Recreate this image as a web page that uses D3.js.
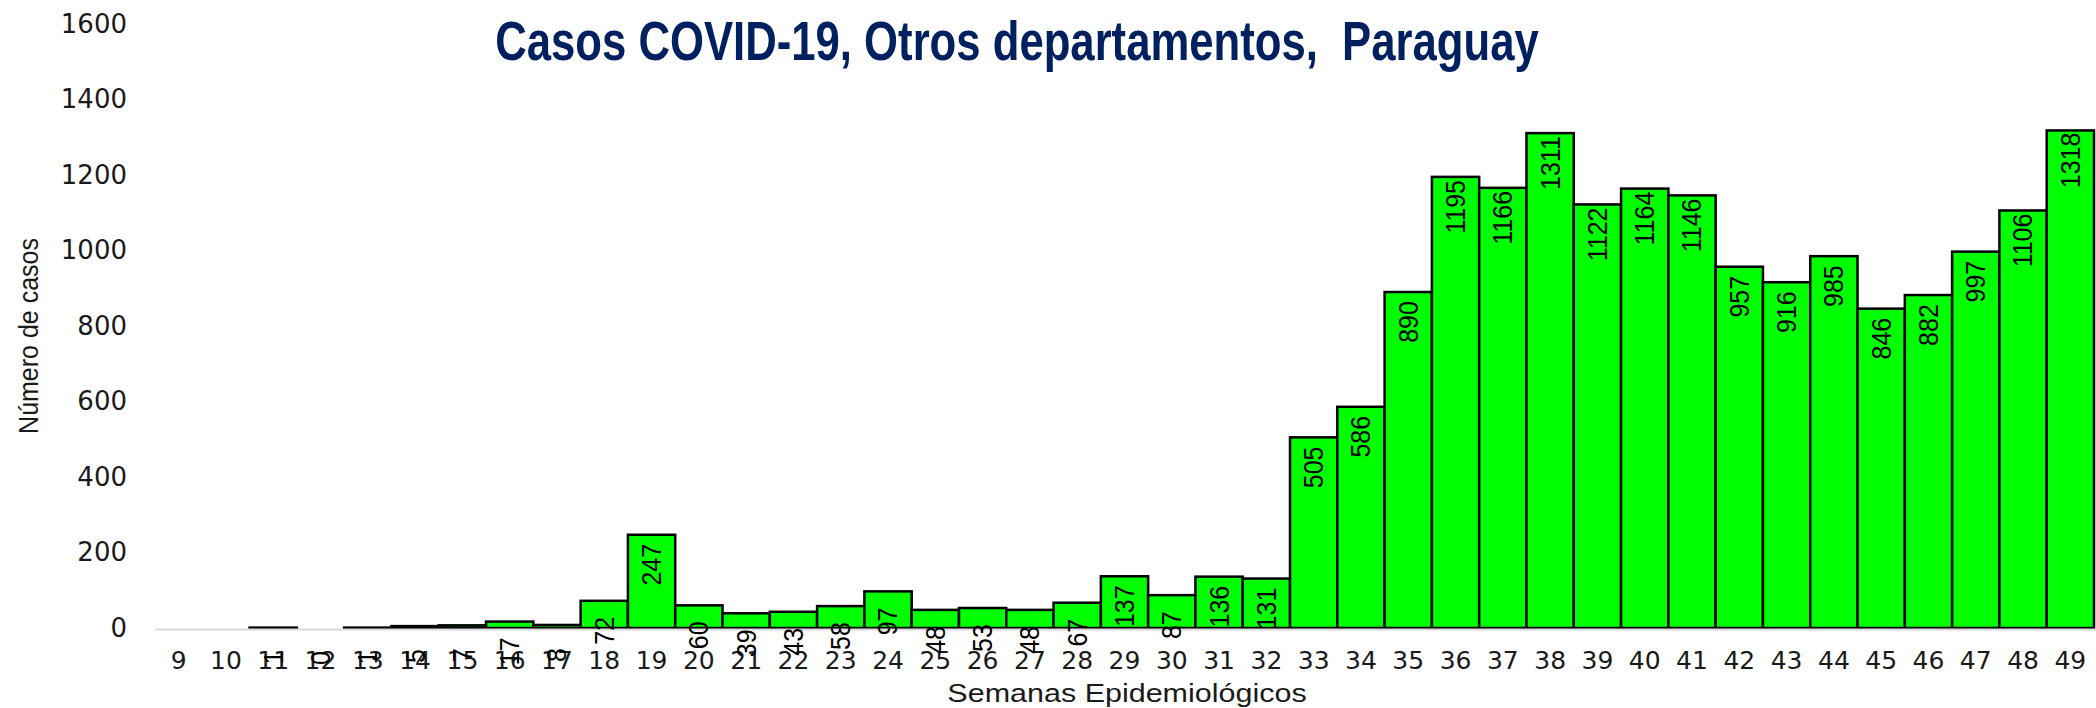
<!DOCTYPE html>
<meta charset="utf-8">
<script src="https://d3js.org/d3.v7.min.js"></script>
<style>
  body { margin: 0; background: #fff; }
</style>
<div id="chart"></div>
<script>

    // data
    var weeks = [9, 10, 11, 12, 13, 14, 15, 16, 17, 18, 19, 20, 21, 22, 23, 24, 25, 26, 27, 28, 29,
        30, 31, 32, 33, 34, 35, 36, 37, 38, 39, 40, 41, 42, 43, 44, 45, 46, 47, 48, 49];
    var cases = [null, null, 1, 0, 1, 5, 7, 17, 8, 72, 247, 60, 39, 43, 58, 97, 48, 53, 48, 67, 137,
        87, 136, 131, 505, 586, 890, 1195, 1166, 1311, 1122, 1164, 1146, 957, 916, 985, 846, 882, 997, 1106, 1318];
    var yTicks = [0, 200, 400, 600, 800, 1000, 1200, 1400, 1600];

    var title = "Casos COVID-19, Otros departamentos,  Paraguay";
    var xTitle = "Semanas Epidemiológicos";
    var yTitle = "Número de casos";

    var width = 2096, height = 708;
    var margin = { top: 24, right: 2, bottom: 80, left: 155 };

    var data = weeks.map(function (w, i) { return { week: w, value: cases[i] }; });

    var svg = d3.select("#chart")
        .append("svg")
        .attr("width", width)
        .attr("height", height);

    var x = d3.scaleBand()
        .domain(weeks)
        .range([margin.left, width - margin.right])
        .padding(0);

    var y = d3.scaleLinear()
        .domain([0, 1600])
        .range([height - margin.bottom, margin.top]);

    // title (condensed bold, squeezed horizontally)
    svg.append("text")
        .attr("transform", "translate(1017,60) scale(0.78,1)")
        .attr("text-anchor", "middle")
        .style("white-space", "pre")
        .style("font-family", "'Liberation Sans', Arial, sans-serif")
        .style("font-weight", "bold")
        .style("font-size", "56px")
        .attr("fill", "#002060")
        .text(title);

    // y axis (labels only)
    var yAxis = svg.append("g")
        .attr("transform", "translate(127,0)")
        .call(d3.axisLeft(y).tickValues(yTicks).tickFormat(d3.format("d")).tickSize(0).tickPadding(0));
    yAxis.select(".domain").remove();
    yAxis.selectAll("text")
        .style("font-family", "'DejaVu Sans', sans-serif")
        .style("font-size", "26px")
        .attr("fill", "#1a1a1a");

    // bars
    var bars = data.filter(function (d) { return d.value !== null; });

    svg.append("g")
        .selectAll("rect")
        .data(bars)
        .join("rect")
        .attr("x", function (d) { return x(d.week); })
        .attr("y", function (d) { return y(d.value); })
        .attr("width", x.bandwidth())
        .attr("height", function (d) { return y(0) - y(d.value); })
        .attr("fill", "#00ff00")
        .attr("stroke", function (d) { return d.value > 0 ? "#000" : "none"; })
        .attr("stroke-width", 2.5);

    // x baseline
    svg.append("line")
        .attr("x1", margin.left)
        .attr("x2", width)
        .attr("y1", y(0) + 1.5)
        .attr("y2", y(0) + 1.5)
        .attr("stroke", "#d9d9d9")
        .attr("stroke-width", 2);

    // x axis labels
    var xAxis = svg.append("g")
        .attr("transform", "translate(0," + y(0) + ")")
        .call(d3.axisBottom(x).tickSize(0).tickPadding(23));
    xAxis.select(".domain").remove();
    xAxis.selectAll("text")
        .style("font-family", "'DejaVu Sans', sans-serif")
        .style("font-size", "25px")
        .attr("fill", "#1a1a1a");

    // value labels, rotated, centred a fixed distance below the top of each bar
    svg.append("g")
        .selectAll("text")
        .data(bars)
        .join("text")
        .attr("transform", function (d) {
            return "translate(" + (x(d.week) + x.bandwidth() / 2) + "," + (y(d.value) + 30) + ") scale(1.1,1) rotate(-90)";
        })
        .attr("text-anchor", "middle")
        .attr("dominant-baseline", "central")
        .style("font-family", "'Liberation Sans', Arial, sans-serif")
        .style("font-size", "25px")
        .attr("fill", "#000")
        .text(function (d) { return d.value; });

    // axis titles
    svg.append("text")
        .attr("transform", "translate(1127,702) scale(1.22,1)")
        .attr("text-anchor", "middle")
        .style("font-family", "'Liberation Sans', Arial, sans-serif")
        .style("font-size", "25px")
        .attr("fill", "#1a1a1a")
        .text(xTitle);

    svg.append("text")
        .attr("transform", "translate(29,336) scale(1.1,1) rotate(-90)")
        .attr("text-anchor", "middle")
        .attr("dominant-baseline", "central")
        .style("font-family", "'Liberation Sans', Arial, sans-serif")
        .style("font-size", "25px")
        .attr("fill", "#1a1a1a")
        .text(yTitle);
</script>
